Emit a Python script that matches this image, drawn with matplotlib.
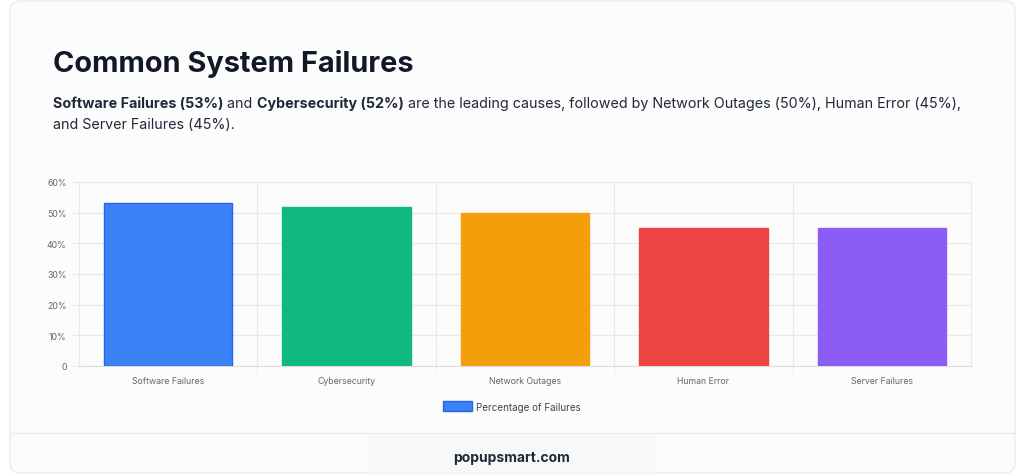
import matplotlib.pyplot as plt
from matplotlib.patches import FancyBboxPatch, Rectangle

plt.rcParams['font.family'] = ['Inter', 'DejaVu Sans']

# Data
categories = ['Software Failures', 'Cybersecurity', 'Network Outages', 'Human Error', 'Server Failures']
values = [53, 52, 50, 45, 45]
colors = ['#3b82f6', '#10b981', '#f59e0b', '#ef4444', '#8b5cf6']
edges = ['#2563eb', '#10b981', '#f59e0b', '#ef4444', '#8b5cf6']
y_ticks = [0, 10, 20, 30, 40, 50, 60]
y_labels = ['0', '10%', '20%', '30%', '40%', '50%', '60%']

W, H = 1024, 477
fig = plt.figure(figsize=(W / 100, H / 100), dpi=100, facecolor='white')

# Background layer in pixel coordinates
bg = fig.add_axes([0, 0, 1, 1], zorder=-1)
bg.set_xlim(0, W)
bg.set_ylim(H, 0)
bg.axis('off')

card = FancyBboxPatch((10, 2), 1005, 472, boxstyle='round,pad=0,rounding_size=10',
                      facecolor='#fcfcfc', edgecolor='#ececec', linewidth=1)
bg.add_patch(card)
bg.plot([10, 1015], [434, 434], color='#ececec', linewidth=1)
bg.add_patch(Rectangle((369, 435), 286, 39, facecolor='#f7f8f9', edgecolor='none'))

bg.text(53, 72, 'Common System Failures', fontsize=20.8, fontweight='bold',
        color='#111827', va='baseline', ha='left')

bg.text(512, 462, 'popupsmart.com', fontsize=10, fontweight='bold',
        color='#1f2937', va='baseline', ha='center')

# Subtitle with mixed bold pieces
renderer = fig.canvas.get_renderer()


def write_line(x, y, pieces, size=10.3):
    for txt, weight in pieces:
        t = bg.text(x, y, txt, fontsize=size, fontweight=weight, color='#1f2937',
                    va='baseline', ha='left')
        x += t.get_window_extent(renderer=renderer).width


line1 = [('Software Failures (53%)', 'bold'), (' and ', 'normal'),
         ('Cybersecurity (52%)', 'bold'),
         (' are the leading causes, followed by Network Outages (50%), Human Error (45%),', 'normal')]
line2 = [('and Server Failures (45%).', 'normal')]
write_line(53, 108, line1)
write_line(53, 129, line2)

# Bar chart
ax = fig.add_axes([79 / W, (H - 367) / H, (971 - 79) / W, (367 - 183) / H])
ax.set_facecolor('none')
x = range(len(categories))
bars = ax.bar(x, values, width=0.72, color=colors, edgecolor=edges, linewidth=1,
              label='Percentage of Failures', zorder=3)

ax.set_xlim(-0.5, len(categories) - 0.5)
ax.set_ylim(0, 60)
ax.set_yticks(y_ticks)
ax.set_yticklabels(y_labels)
ax.set_xticks(list(x))
ax.set_xticklabels(categories)
ax.set_xticks([i + 0.5 for i in range(len(categories) - 1)], minor=True)

ax.grid(axis='y', color='#e8e8e8', linewidth=0.8, zorder=0)
ax.grid(axis='x', which='minor', color='#e8e8e8', linewidth=0.8, zorder=0)
ax.tick_params(axis='x', which='major', length=0, labelsize=6.3, labelcolor='#666666', pad=7)
ax.tick_params(axis='x', which='minor', length=5, color='#e8e8e8')
ax.tick_params(axis='y', length=5, color='#e8e8e8', labelsize=6.3, labelcolor='#666666', pad=4)

for side in ['top', 'right', 'left']:
    ax.spines[side].set_color('#e8e8e8')
    ax.spines[side].set_linewidth(0.8)
ax.spines['bottom'].set_color('#dddddd')
ax.spines['bottom'].set_linewidth(0.8)

ax.legend(loc='center', bbox_to_anchor=(0.485, -0.22), frameon=False, fontsize=7.1,
          handlelength=2.9, handleheight=1.1, handletextpad=0.4, labelcolor='#444444')

fig.savefig('out.png', dpi=100, facecolor='white')
